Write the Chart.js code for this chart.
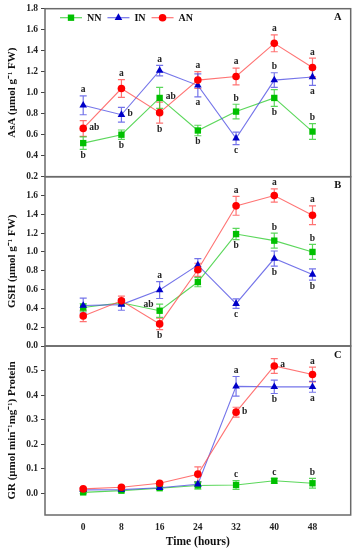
<!DOCTYPE html>
<html><head><meta charset="utf-8">
<script src="https://cdn.jsdelivr.net/npm/chart.js@4/dist/chart.umd.min.js"></script>
<style>
html,body{margin:0;padding:0;background:#fff;}
#wrap{position:relative;width:357px;height:550px;}
#wrap canvas{position:absolute;left:0;top:0;}
</style>
</head><body>
<div id="wrap">
<canvas id="cA" width="357" height="550"></canvas>
<canvas id="cB" width="357" height="550"></canvas>
<canvas id="cC" width="357" height="550"></canvas>
</div>
<script>
// ---------- data ----------
const times = [0, 8, 16, 24, 32, 40, 48];
const timeTicks = [0, 8, 16, 24, 32, 40, 48];
const seriesNames = ['NN', 'IN', 'AN'];

// Panel A: AsA
const asaNN = [0.52, 0.60, 0.95, 0.64, 0.82, 0.95, 0.63];
const asaIN = [0.88, 0.79, 1.21, 1.07, 0.565, 1.12, 1.15];
const asaAN = [0.66, 1.04, 0.81, 1.12, 1.155, 1.47, 1.24];
const asaErrNN = [0.06, 0.045, 0.10, 0.05, 0.07, 0.08, 0.075];
const asaErrIN = [0.09, 0.07, 0.05, 0.11, 0.06, 0.07, 0.08];
const asaErrAN = [0.075, 0.085, 0.10, 0.08, 0.08, 0.08, 0.09];
const asaTicks = [0.2, 0.4, 0.6, 0.8, 1.0, 1.2, 1.4, 1.6, 1.8];
const asaLetters = [
  ['IN',0,'a','above'], ['AN',0,'ab','right'], ['NN',0,'b','below'],
  ['AN',1,'a','above'], ['IN',1,'b','right'], ['NN',1,'b','below'],
  ['IN',2,'a','above'], ['NN',2,'ab','right'], ['AN',2,'b','below'],
  ['AN',3,'a','above'], ['IN',3,'a','below'], ['NN',3,'b','below'],
  ['AN',4,'a','above'], ['NN',4,'b','above'], ['IN',4,'c','below'],
  ['AN',5,'a','above'], ['IN',5,'b','above'], ['NN',5,'b','below'],
  ['AN',6,'a','above'], ['IN',6,'a','below'], ['NN',6,'b','above']
];

// Panel B: GSH
const gshNN = [0.41, 0.46, 0.375, 0.68, 1.19, 1.12, 1.0];
const gshIN = [0.43, 0.44, 0.595, 0.86, 0.45, 0.93, 0.76];
const gshAN = [0.32, 0.48, 0.235, 0.81, 1.49, 1.60, 1.39];
const gshErrNN = [0.04, 0.03, 0.07, 0.05, 0.06, 0.08, 0.08];
const gshErrIN = [0.08, 0.06, 0.09, 0.07, 0.05, 0.08, 0.06];
const gshErrAN = [0.06, 0.05, 0.06, 0.07, 0.10, 0.07, 0.10];
const gshTicks = [0.0, 0.2, 0.4, 0.6, 0.8, 1.0, 1.2, 1.4, 1.6];
const gshLetters = [
  ['IN',2,'a','above'], ['NN',2,'ab','left'], ['AN',2,'b','below'],
  ['AN',4,'a','above'], ['NN',4,'b','below'], ['IN',4,'c','below'],
  ['AN',5,'a','above'], ['NN',5,'b','above'], ['IN',5,'b','below'],
  ['AN',6,'a','above'], ['NN',6,'b','above'], ['IN',6,'b','below']
];

// Panel C: GR
const grNN = [0.005, 0.012, 0.022, 0.033, 0.035, 0.052, 0.042];
const grIN = [0.015, 0.016, 0.024, 0.038, 0.436, 0.434, 0.434];
const grAN = [0.019, 0.026, 0.042, 0.079, 0.331, 0.519, 0.484];
const grErrNN = [0.005, 0.005, 0.005, 0.015, 0.018, 0.01, 0.02];
const grErrIN = [0.005, 0.005, 0.005, 0.01, 0.04, 0.027, 0.022];
const grErrAN = [0.005, 0.005, 0.005, 0.03, 0.02, 0.03, 0.03];
const grTicks = [0.0, 0.1, 0.2, 0.3, 0.4, 0.5];
const grLetters = [
  ['IN',4,'a','above'], ['AN',4,'b','right'], ['NN',4,'c','above'],
  ['AN',5,'a','right'], ['IN',5,'b','below'], ['NN',5,'c','above'],
  ['AN',6,'a','above'], ['IN',6,'a','below'], ['NN',6,'b','above']
];

// ---------- styling ----------
const FONT = '"Liberation Serif", "Times New Roman", serif';
const styles = {
  NN: {marker: '#00c000', line: 'rgba(50,205,50,0.8)', shape: 'rect', r: 4.5, order: 3},
  IN: {marker: '#0000c8', line: 'rgba(70,70,225,0.75)', shape: 'triangle', r: 4.4, order: 2},
  AN: {marker: '#ff0000', line: 'rgba(255,80,80,0.8)', shape: 'circle', r: 3.8, order: 1}
};

const errorBars = {
  id: 'errorBars',
  beforeDatasetsDraw(chart) {
    const {ctx, scales: {x, y}} = chart;
    chart.data.datasets.slice().reverse().forEach(ds => {
      ctx.save();
      ctx.strokeStyle = ds.borderColor;
      ctx.lineWidth = 1.2;
      ds.data.forEach((pt, i) => {
        const e = ds.errors[i];
        const px = x.getPixelForValue(pt.x);
        const y1 = y.getPixelForValue(pt.y + e), y2 = y.getPixelForValue(pt.y - e);
        ctx.beginPath();
        ctx.moveTo(px, y1); ctx.lineTo(px, y2);
        ctx.moveTo(px - 3.5, y1); ctx.lineTo(px + 3.5, y1);
        ctx.moveTo(px - 3.5, y2); ctx.lineTo(px + 3.5, y2);
        ctx.stroke();
      });
      ctx.restore();
    });
  }
};

const sigLetters = {
  id: 'sigLetters',
  afterDatasetsDraw(chart, args, opts) {
    const {ctx, scales: {x, y}} = chart;
    ctx.save();
    ctx.font = 'bold 9.5px ' + FONT;
    ctx.fillStyle = '#222';
    ctx.textBaseline = 'middle';
    (opts.items || []).forEach(([name, i, text, pos]) => {
      const ds = chart.data.datasets.find(d => d.label === name);
      const pt = ds.data[i], e = ds.errors[i];
      const px = x.getPixelForValue(pt.x);
      let tx = px, ty;
      ctx.textAlign = 'center';
      if (pos === 'above') ty = y.getPixelForValue(pt.y + e) - 6;
      else if (pos === 'below') ty = y.getPixelForValue(pt.y - e) + 6;
      else if (pos === 'right') { tx = px + 6; ty = y.getPixelForValue(pt.y) - 1; ctx.textAlign = 'left'; }
      else { tx = px - 6; ty = y.getPixelForValue(pt.y) - 6; ctx.textAlign = 'right'; }
      ctx.fillText(text, tx, ty);
    });
    ctx.restore();
  }
};

const frame = {
  id: 'frame',
  afterDraw(chart, args, opts) {
    const {ctx, chartArea: a} = chart;
    ctx.save();
    ctx.strokeStyle = '#6a6a6a';
    ctx.lineWidth = 1.5;
    ctx.strokeRect(a.left, a.top, a.right - a.left, a.bottom - a.top);
    ctx.font = 'bold 10.5px ' + FONT;
    ctx.fillStyle = '#111';
    ctx.textAlign = 'center';
    ctx.textBaseline = 'middle';
    ctx.fillText(opts.tag, a.right - 13, a.top + 9);
    if (opts.legend) {
      let lx = a.left + 15;
      const ly = a.top + 9;
      ctx.font = 'bold 10px ' + FONT;
      ctx.textAlign = 'left';
      chart.data.datasets.forEach(ds => {
        const st = styles[ds.label];
        ctx.strokeStyle = st.line; ctx.lineWidth = 1.2;
        ctx.beginPath(); ctx.moveTo(lx, ly); ctx.lineTo(lx + 22, ly); ctx.stroke();
        ctx.fillStyle = st.marker;
        Chart.helpers.drawPoint(ctx, {pointStyle: st.shape, radius: st.r, rotation: 0, borderWidth: 0}, lx + 11, ly);
        ctx.fillStyle = '#111';
        ctx.fillText(ds.label, lx + 27, ly + 0.5);
        lx += 27 + ctx.measureText(ds.label).width + 6;
      });
    }
    ctx.restore();
  }
};

function makePanel(id, p) {
  const datasets = seriesNames.map(name => ({
    label: name,
    data: times.map((t, i) => ({x: t, y: p.values[name][i]})),
    errors: p.errors[name],
    borderColor: styles[name].line,
    borderWidth: 1.1,
    backgroundColor: styles[name].marker,
    pointBackgroundColor: styles[name].marker,
    pointBorderColor: styles[name].marker,
    pointBorderWidth: 0,
    pointStyle: styles[name].shape,
    pointRadius: styles[name].r,
    order: styles[name].order,
    tension: 0,
    fill: false,
    clip: false
  }));
  return new Chart(document.getElementById(id), {
    type: 'line',
    data: {datasets},
    plugins: [errorBars, sigLetters, frame],
    options: {
      responsive: false,
      animation: false,
      devicePixelRatio: 1,
      events: [],
      layout: {padding: {left: 0, right: 6.3, top: p.top, bottom: p.bottomPad}},
      plugins: {
        legend: {display: false},
        tooltip: {enabled: false},
        sigLetters: {items: p.letters},
        frame: {tag: p.tag, legend: !!p.legend}
      },
      scales: {
        x: {
          type: 'linear', min: -8, max: 56,
          display: !!p.showX,
          afterBuildTicks: s => { s.ticks = timeTicks.map(v => ({value: v})); },
          afterFit: s => { if (p.showX) s.height = 35; },
          grid: {display: false, drawTicks: false},
          border: {display: false},
          ticks: {font: {family: FONT, size: 9.5, weight: 'bold'}, color: '#222', padding: 7, maxRotation: 0},
          title: {display: true, text: 'Time (hours)', font: {family: FONT, size: 11.5, weight: 'bold'}, color: '#111', padding: {top: 0, bottom: 1.5}}
        },
        y: {
          min: p.min, max: p.max,
          afterBuildTicks: s => { s.ticks = p.ticks.map(v => ({value: v})); },
          afterFit: s => { s.width = 45; },
          grid: {display: true, drawOnChartArea: false, drawTicks: true, tickLength: 4, color: '#444', lineWidth: 1},
          border: {display: false},
          ticks: {font: {family: FONT, size: 9.5, weight: 'bold'}, color: '#222', padding: 3,
                  callback: v => Number(v).toFixed(1)},
          title: {display: true, text: p.title, font: {family: FONT, size: 11, weight: 'bold'}, color: '#111', padding: {top: 6, bottom: 0}}
        }
      }
    }
  });
}

makePanel('cA', {
  values: {NN: asaNN, IN: asaIN, AN: asaAN},
  errors: {NN: asaErrNN, IN: asaErrIN, AN: asaErrAN},
  letters: asaLetters, ticks: asaTicks, min: 0.2, max: 1.8,
  title: 'AsA (μmol g⁻¹ FW)', tag: 'A', legend: true,
  top: 7.3, bottomPad: 550 - 176.7
});
makePanel('cB', {
  values: {NN: gshNN, IN: gshIN, AN: gshAN},
  errors: {NN: gshErrNN, IN: gshErrIN, AN: gshErrAN},
  letters: gshLetters, ticks: gshTicks, min: 0, max: 1.8,
  title: 'GSH (μmol g⁻¹ FW)', tag: 'B',
  top: 176.7, bottomPad: 550 - 346
});
makePanel('cC', {
  values: {NN: grNN, IN: grIN, AN: grAN},
  errors: {NN: grErrNN, IN: grErrIN, AN: grErrAN},
  letters: grLetters, ticks: grTicks, min: -0.087, max: 0.6,
  title: 'GR (μmol min⁻¹mg⁻¹) Protein', tag: 'C', showX: true,
  top: 346, bottomPad: 0
});
</script>
</body></html>
